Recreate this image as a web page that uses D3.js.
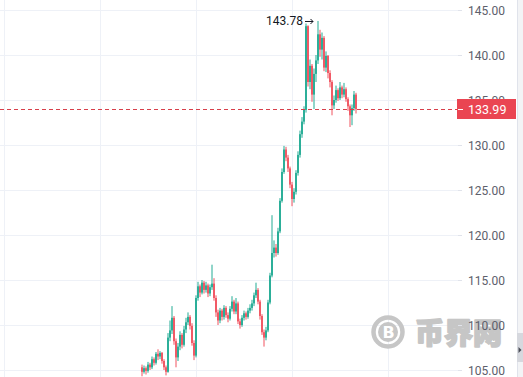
<!DOCTYPE html>
<html>
<head>
<meta charset="utf-8">
<script src="https://cdn.jsdelivr.net/npm/d3@7"></script>
<style>
  html, body { margin: 0; padding: 0; background: #fff; }
  svg { display: block; }
</style>
</head>
<body>
<svg id="chart"></svg>
<script>
// 30 minute candles
const opens = [105.3,104.8,105.2,104.9,105.6,105.3,106.2,105.8,106.8,106.5,106.9,106.0,105.3,104.8,108.6,109.4,110.8,108.2,106.4,107.6,
  108.9,107.8,109.5,110.3,110.9,109.9,108.0,106.6,113.0,114.3,113.6,114.7,113.9,114.4,113.5,114.2,114.6,113.0,111.4,110.5,
  111.6,110.9,111.9,111.1,110.7,111.8,112.6,111.5,112.4,110.4,110.0,110.8,111.3,110.9,111.6,111.9,112.4,113.3,113.9,112.6,
  111.0,109.2,108.6,109.4,112.5,115.5,118.0,118.6,118.0,120.4,123.8,127.0,129.5,128.6,127.4,125.6,124.0,124.8,126.9,128.9,
  131.2,132.6,133.9,143.2,137.0,138.8,135.6,137.9,139.4,142.3,140.6,141.9,138.6,139.9,138.0,137.0,134.4,135.0,136.1,135.2,
  136.4,135.6,136.2,135.1,134.3,133.3,134.1,135.6]
const highs = [105.6,105.5,105.4,105.9,105.8,106.5,106.4,107.0,107.3,107.1,107.0,106.2,105.5,109.1,110.5,112.1,111.0,108.5,108.0,109.3,
  109.1,109.9,110.8,111.4,111.1,110.2,108.3,113.3,114.8,114.5,115.0,114.9,114.8,114.6,114.5,116.7,115.2,113.3,111.7,111.9,
  111.8,112.2,112.1,111.4,112.1,113.2,112.8,113.0,112.6,110.7,111.1,111.6,111.5,111.9,112.3,112.8,113.6,114.7,114.1,112.8,
  111.2,109.5,109.8,112.8,115.8,122.2,119.4,119.0,120.8,124.1,127.4,129.9,129.8,128.9,127.6,125.9,125.2,127.2,129.3,131.6,
  133.1,134.3,143.5,143.3,139.5,139.0,138.5,140.0,143.78,142.8,142.5,142.1,140.4,140.0,138.3,137.2,135.5,136.6,136.3,137.0,
  136.6,136.9,136.4,135.3,134.5,134.5,136.0,135.8]
const lows = [104.3,104.6,104.5,104.7,105.0,105.1,105.5,105.6,106.1,106.2,105.7,105.0,104.4,104.7,108.2,109.0,107.8,105.3,106.0,107.2,
  107.4,107.6,109.1,110.0,109.5,107.7,106.1,106.4,112.7,113.1,113.4,113.5,113.6,113.1,113.2,113.9,112.7,110.9,110.0,110.2,
  110.5,110.6,110.8,110.3,110.5,111.5,111.2,111.2,110.1,109.6,109.8,110.5,110.6,110.7,111.3,111.6,112.1,113.0,112.3,110.6,
  108.9,107.6,108.3,109.2,112.3,115.3,117.5,117.6,117.8,120.2,123.6,126.8,128.2,127.0,125.2,123.2,123.6,124.5,126.6,128.6,
  130.8,132.3,133.6,136.5,136.2,134.8,134.0,137.0,139.0,139.8,139.5,138.2,138.1,137.4,136.4,133.3,134.0,134.7,134.9,135.0,
  135.2,135.3,134.8,133.8,132.0,132.2,133.8,133.5]
const closes = [104.8,105.2,104.9,105.6,105.3,106.2,105.8,106.8,106.5,106.9,106.0,105.3,104.8,108.6,109.4,110.8,108.2,106.4,107.6,108.9,
  107.8,109.5,110.3,110.9,109.9,108.0,106.6,113.0,114.3,113.6,114.7,113.9,114.4,113.5,114.2,114.6,113.0,111.4,110.5,111.6,
  110.9,111.9,111.1,110.7,111.8,112.6,111.5,112.4,110.4,110.0,110.8,111.3,110.9,111.6,111.9,112.4,113.3,113.9,112.6,111.0,
  109.2,108.6,109.4,112.5,115.5,118.0,118.6,118.0,120.4,123.8,127.0,129.5,128.6,127.4,125.6,124.0,124.8,126.9,128.9,131.2,
  132.6,133.9,143.2,137.0,138.8,135.6,137.9,139.4,142.3,140.6,141.9,138.6,139.9,138.0,137.0,134.4,135.0,136.1,135.2,136.4,
  135.6,136.2,135.1,134.3,133.3,134.1,135.6,133.99]

const priceTicks = [105, 110, 115, 120, 125, 130, 135, 140, 145]
const lastPrice = 133.99
const maxLabel = "143.78"
const watermark = "币界网"

const W = 523, H = 377
const plotRight = 458
const up = "#22ab94", down = "#f0525f"

const start = new Date(2024, 2, 1, 10, 30)
const data = closes.map((c, i) => ({
  t: d3.timeMinute.offset(start, 30 * i),
  o: opens[i], h: highs[i], l: lows[i], c: c
}))

const x = d3.scaleTime()
  .domain([d3.timeMinute.offset(start, -71 * 30), d3.timeMinute.offset(start, 158 * 30)])
  .range([0, plotRight])

const y = d3.scaleLinear()
  .domain([105, 145])
  .range([370, 10])

const svg = d3.select("#chart").attr("width", W).attr("height", H)

svg.append("defs").append("clipPath").attr("id", "plot")
  .append("rect").attr("x", 0).attr("y", 0).attr("width", plotRight).attr("height", H)

// grid
const grid = svg.append("g").attr("stroke", "#eef1f7").attr("stroke-width", 1)
grid.selectAll("line.h").data(priceTicks).join("line")
  .attr("class", "h")
  .attr("x1", 0).attr("x2", plotRight)
  .attr("y1", d => Math.round(y(d)) + 0.5).attr("y2", d => Math.round(y(d)) + 0.5)
grid.selectAll("line.v").data(x.ticks(d3.timeDay.every(1))).join("line")
  .attr("class", "v")
  .attr("x1", d => Math.round(x(d)) + 0.5).attr("x2", d => Math.round(x(d)) + 0.5)
  .attr("y1", 0).attr("y2", H)

// watermark
const wm = svg.append("g").attr("fill", "#c6c6c6")
wm.append("circle").attr("cx", 388).attr("cy", 332).attr("r", 14.5)
  .attr("fill", "none").attr("stroke", "#c6c6c6").attr("stroke-width", 4.5)
wm.append("circle").attr("cx", 388).attr("cy", 332).attr("r", 10)
wm.append("text").attr("x", 388.5).attr("y", 338).attr("text-anchor", "middle")
  .attr("fill", "#fff").style("font", "bold 16px 'DejaVu Sans'").text("B")
wm.append("text").attr("x", 415).attr("y", 344)
  .attr("stroke", "#c6c6c6").attr("stroke-width", 1.6).attr("stroke-linejoin", "round")
  .style("font", "900 29px 'Noto Sans CJK SC'").text(watermark)

// candles
const candles = svg.append("g").attr("clip-path", "url(#plot)")
  .selectAll("g").data(data).join("g")
  .attr("fill", d => d.c >= d.o ? up : down)
  .attr("stroke", d => d.c >= d.o ? up : down)

candles.append("line")
  .attr("x1", d => x(d.t)).attr("x2", d => x(d.t))
  .attr("y1", d => y(d.h)).attr("y2", d => y(d.l))
  .attr("stroke-width", 1)

candles.append("rect")
  .attr("x", d => x(d.t) - 0.9)
  .attr("width", 1.8)
  .attr("y", d => y(Math.max(d.o, d.c)))
  .attr("height", d => Math.max(1, Math.abs(y(d.o) - y(d.c))))
  .attr("stroke", "none")

// last price line
svg.append("line")
  .attr("x1", 0).attr("x2", plotRight)
  .attr("y1", Math.round(y(lastPrice)) + 0.5).attr("y2", Math.round(y(lastPrice)) + 0.5)
  .attr("stroke", "#d8404b").attr("stroke-width", 1)
  .attr("stroke-dasharray", "4,3")

// max annotation
const peak = data.find(d => d.h === d3.max(highs))
const ax = x(peak.t), ay = y(peak.h)
svg.append("text")
  .attr("x", ax - 15).attr("y", ay + 4)
  .attr("text-anchor", "end")
  .attr("fill", "#131722")
  .style("font", "12px Roboto")
  .text(maxLabel)
svg.append("path")
  .attr("d", `M${ax - 13},${ay + 0.5}H${ax - 5}M${ax - 7.5},${ay - 2}L${ax - 5},${ay + 0.5}L${ax - 7.5},${ay + 3}`)
  .attr("fill", "none").attr("stroke", "#131722").attr("stroke-width", 1)

// price scale
const axis = svg.append("g")
axis.selectAll("line").data(priceTicks).join("line")
  .attr("x1", plotRight).attr("x2", plotRight + 4)
  .attr("y1", d => Math.round(y(d)) + 0.5).attr("y2", d => Math.round(y(d)) + 0.5)
  .attr("stroke", "#e0e3eb")
axis.selectAll("text").data(priceTicks).join("text")
  .attr("x", 468).attr("y", d => y(d) + 4.5)
  .attr("fill", "#5d606b")
  .style("font", "12px Roboto")
  .text(d => d3.format(".2f")(d))

// last price tag
const tag = svg.append("g").attr("transform", `translate(0,${Math.round(y(lastPrice))})`)
tag.append("rect").attr("x", 457).attr("y", -10).attr("width", 59).attr("height", 20)
  .attr("fill", "#ea4552")
tag.append("line").attr("x1", 458).attr("x2", 463).attr("y1", 0.5).attr("y2", 0.5)
  .attr("stroke", "#fff")
tag.append("text").attr("x", 468).attr("y", 4.5)
  .attr("fill", "#fff").style("font", "12.5px Roboto")
  .text(d3.format(".2f")(lastPrice))

// right edge strip
svg.append("rect").attr("x", 517).attr("y", 0).attr("width", 6).attr("height", H).attr("fill", "#f3f4f6")
svg.append("line").attr("x1", 517.5).attr("x2", 517.5).attr("y1", 0).attr("y2", H).attr("stroke", "#e0e3eb")
svg.append("rect").attr("x", 517).attr("y", 333).attr("width", 6).attr("height", 29).attr("fill", "#d6d8de")
svg.append("path").attr("d", "M518.5,347L521.5,350L518.5,353Z").attr("fill", "#4a4d57")
</script>
</body>
</html>
